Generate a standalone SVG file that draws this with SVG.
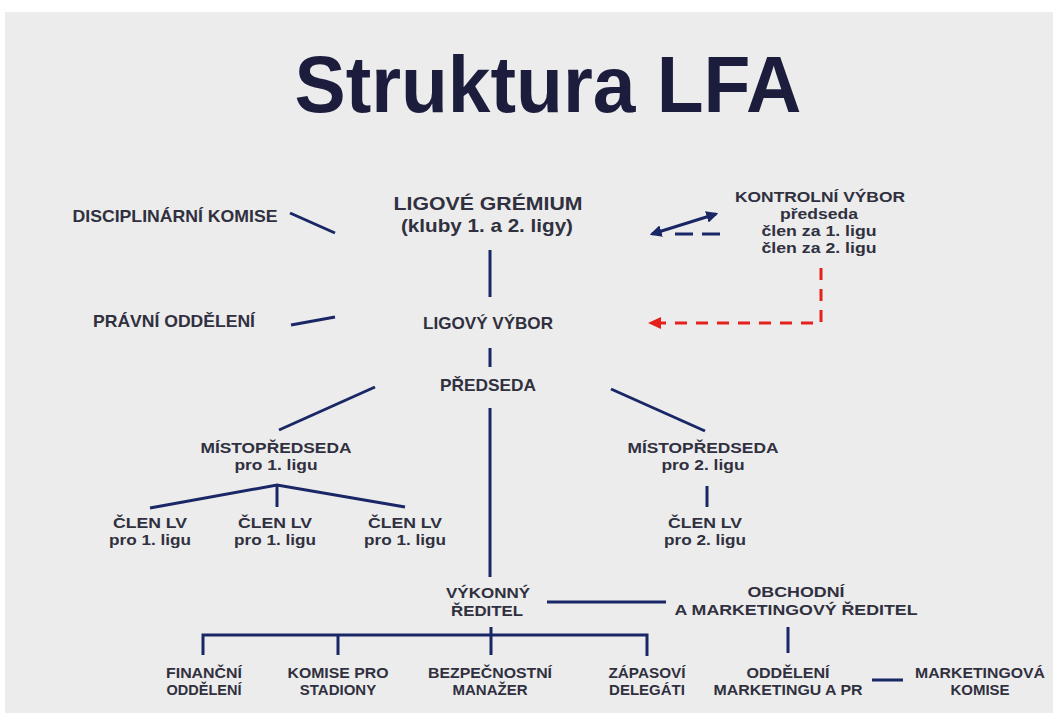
<svg xmlns="http://www.w3.org/2000/svg" width="1053" height="713" viewBox="0 0 1053 713">
<style>
.t{font-family:"Liberation Sans",Arial,sans-serif;font-weight:bold;fill:#30303f;text-anchor:middle;font-size:15px}
.b{font-size:17px}
.title{font-family:"Liberation Sans",Arial,sans-serif;font-weight:bold;fill:#1c1d3d;font-size:80px;text-anchor:middle}
.ln{stroke:#1a2766;stroke-width:3;fill:none;stroke-linecap:butt}
.red{stroke:#e5211d;stroke-width:3;fill:none;stroke-dasharray:12 9}
</style>
<defs>
<marker id="ah" viewBox="0 0 10 10" refX="8" refY="5" markerWidth="4" markerHeight="4" orient="auto-start-reverse" markerUnits="strokeWidth">
<path d="M0,0 L10,5 L0,10 z" fill="#1a2766"/>
</marker>
</defs>
<rect x="0" y="0" width="1053" height="713" fill="#ffffff"/>
<rect x="5" y="12" width="1048" height="701" fill="#ececec"/>
<text class="title" x="548" y="112" textLength="507" lengthAdjust="spacingAndGlyphs">Struktura LFA</text>

<g id="connectors">
<line class="ln" x1="490" y1="250" x2="490" y2="297"/>
<line class="ln" x1="490" y1="348" x2="490" y2="367"/>
<line class="ln" x1="290" y1="213" x2="335" y2="233"/>
<line class="ln" x1="291" y1="325" x2="335" y2="317"/>
<line class="ln" x1="652" y1="234" x2="716" y2="214" marker-start="url(#ah)" marker-end="url(#ah)"/>
<line class="ln" x1="675" y1="234" x2="720" y2="234" stroke-dasharray="18 9"/>
<polyline class="red" points="821,268 821,323 660,323"/>
<path d="M648,323 L661,317 L661,329 z" fill="#e5211d"/>
<line class="ln" x1="375" y1="387" x2="279" y2="430"/>
<line class="ln" x1="611" y1="389" x2="705" y2="431"/>
<line class="ln" x1="490" y1="408" x2="490" y2="577"/>
<polyline class="ln" points="150,508 277,485 405,507"/>
<line class="ln" x1="277" y1="485" x2="277" y2="507"/>
<line class="ln" x1="707" y1="486" x2="707" y2="507"/>
<line class="ln" x1="547" y1="602" x2="666" y2="602"/>
<polyline class="ln" points="203,655 203,635 647,635 647,656"/>
<line class="ln" x1="338" y1="635" x2="338" y2="655"/>
<line class="ln" x1="491" y1="627" x2="491" y2="655"/>
<line class="ln" x1="788" y1="627" x2="788" y2="653"/>
<line class="ln" x1="872" y1="680" x2="903" y2="680"/>
</g>

<g id="ligove-gremium"><text class="t" x="488" y="210" style="font-size:18.5px" textLength="189" lengthAdjust="spacingAndGlyphs">LIGOVÉ GRÉMIUM</text><text class="t" x="487" y="232" style="font-size:19px" textLength="172" lengthAdjust="spacingAndGlyphs">(kluby 1. a 2. ligy)</text></g>
<g id="disciplinarni-komise"><text class="t b" x="175" y="222" textLength="205" lengthAdjust="spacingAndGlyphs">DISCIPLINÁRNÍ KOMISE</text></g>
<g id="pravni-oddeleni"><text class="t b" x="174" y="327" textLength="162" lengthAdjust="spacingAndGlyphs">PRÁVNÍ ODDĚLENÍ</text></g>
<g id="kontrolni-vybor"><text class="t" x="820" y="202" textLength="170" lengthAdjust="spacingAndGlyphs">KONTROLNÍ VÝBOR</text><text class="t" x="819" y="219" textLength="78" lengthAdjust="spacingAndGlyphs">předseda</text><text class="t" x="819" y="236" textLength="115" lengthAdjust="spacingAndGlyphs">člen za 1. ligu</text><text class="t" x="819" y="253" textLength="115" lengthAdjust="spacingAndGlyphs">člen za 2. ligu</text></g>
<g id="ligovy-vybor"><text class="t b" x="488" y="329" textLength="130" lengthAdjust="spacingAndGlyphs">LIGOVÝ VÝBOR</text></g>
<g id="predseda"><text class="t b" x="488" y="391" textLength="96" lengthAdjust="spacingAndGlyphs">PŘEDSEDA</text></g>
<g id="mistopredseda-1"><text class="t" x="276" y="453" textLength="151" lengthAdjust="spacingAndGlyphs">MÍSTOPŘEDSEDA</text><text class="t" x="276" y="470" textLength="83" lengthAdjust="spacingAndGlyphs">pro 1. ligu</text></g>
<g id="mistopredseda-2"><text class="t" x="703" y="453" textLength="151" lengthAdjust="spacingAndGlyphs">MÍSTOPŘEDSEDA</text><text class="t" x="703" y="470" textLength="83" lengthAdjust="spacingAndGlyphs">pro 2. ligu</text></g>
<g id="clen-1a"><text class="t" x="150" y="528" textLength="74" lengthAdjust="spacingAndGlyphs">ČLEN LV</text><text class="t" x="150" y="545" textLength="82" lengthAdjust="spacingAndGlyphs">pro 1. ligu</text></g>
<g id="clen-1b"><text class="t" x="275" y="528" textLength="74" lengthAdjust="spacingAndGlyphs">ČLEN LV</text><text class="t" x="275" y="545" textLength="82" lengthAdjust="spacingAndGlyphs">pro 1. ligu</text></g>
<g id="clen-1c"><text class="t" x="405" y="528" textLength="74" lengthAdjust="spacingAndGlyphs">ČLEN LV</text><text class="t" x="405" y="545" textLength="82" lengthAdjust="spacingAndGlyphs">pro 1. ligu</text></g>
<g id="clen-2"><text class="t" x="705" y="528" textLength="74" lengthAdjust="spacingAndGlyphs">ČLEN LV</text><text class="t" x="705" y="545" textLength="82" lengthAdjust="spacingAndGlyphs">pro 2. ligu</text></g>
<g id="vykonny-reditel"><text class="t" x="488" y="598" textLength="84" lengthAdjust="spacingAndGlyphs">VÝKONNÝ</text><text class="t" x="487" y="616" textLength="72" lengthAdjust="spacingAndGlyphs">ŘEDITEL</text></g>
<g id="obchodni-reditel"><text class="t" x="796" y="597" textLength="97" lengthAdjust="spacingAndGlyphs">OBCHODNÍ</text><text class="t" x="796" y="615" textLength="243" lengthAdjust="spacingAndGlyphs">A MARKETINGOVÝ ŘEDITEL</text></g>
<g id="financni"><text class="t" x="204" y="678" textLength="76" lengthAdjust="spacingAndGlyphs">FINANČNÍ</text><text class="t" x="204" y="695" textLength="75" lengthAdjust="spacingAndGlyphs">ODDĚLENÍ</text></g>
<g id="komise-stadiony"><text class="t" x="338" y="678" textLength="101" lengthAdjust="spacingAndGlyphs">KOMISE PRO</text><text class="t" x="338" y="695">STADIONY</text></g>
<g id="bezpecnostni"><text class="t" x="490" y="678" textLength="124" lengthAdjust="spacingAndGlyphs">BEZPEČNOSTNÍ</text><text class="t" x="490" y="695">MANAŽER</text></g>
<g id="zapasovi"><text class="t" x="647" y="678" textLength="77" lengthAdjust="spacingAndGlyphs">ZÁPASOVÍ</text><text class="t" x="647" y="695">DELEGÁTI</text></g>
<g id="oddeleni-marketingu"><text class="t" x="788" y="678" textLength="83" lengthAdjust="spacingAndGlyphs">ODDĚLENÍ</text><text class="t" x="788" y="695" textLength="149" lengthAdjust="spacingAndGlyphs">MARKETINGU A PR</text></g>
<g id="marketingova-komise"><text class="t" x="980" y="678" textLength="130" lengthAdjust="spacingAndGlyphs">MARKETINGOVÁ</text><text class="t" x="980" y="695">KOMISE</text></g>
</svg>
